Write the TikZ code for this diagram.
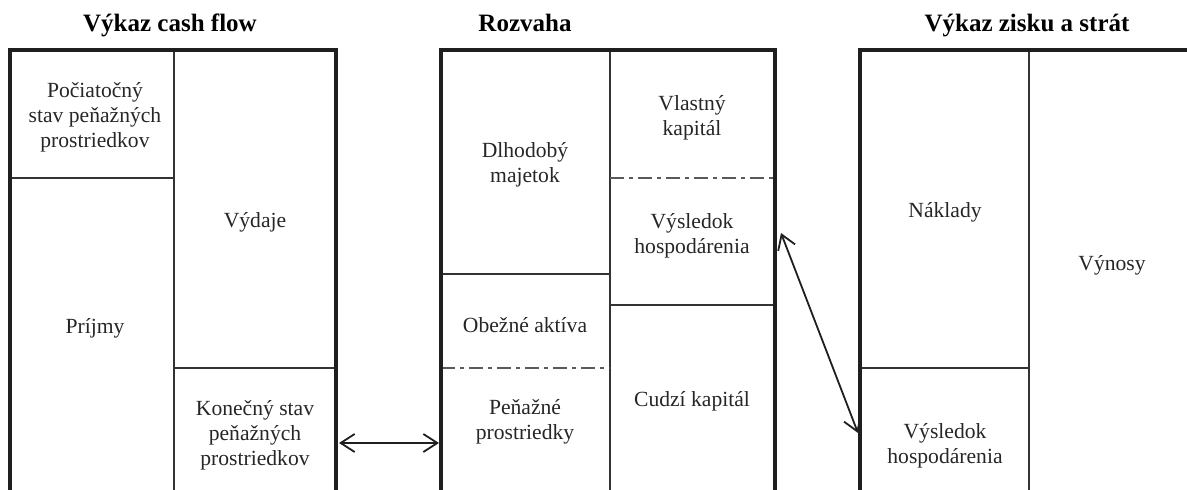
\documentclass[tikz,border=0pt]{standalone}
\usepackage{fontspec}
\setmainfont{Liberation Serif}
\usetikzlibrary{arrows.meta}
\begin{document}
\begin{tikzpicture}[x=0.5pt,y=-0.5pt,
 outer/.style={line width=1.8pt, draw=black!88},
 inner/.style={line width=1pt, draw=black!80},
 dashdot/.style={line width=1.2pt, draw=black!65, dash pattern=on 7pt off 2.5pt on 2pt off 2.5pt},
 lbl/.style={align=center, font=\fontsize{10.8}{12.6}\selectfont, text=black!85, inner sep=0pt},
 ttl/.style={font=\bfseries\fontsize{12.5}{14}\selectfont, inner sep=0pt, anchor=base},
 arr/.style={{Straight Barb[length=7pt,width=9pt]}-{Straight Barb[length=7pt,width=9pt]}, line width=0.9pt, draw=black!88}
]
\useasboundingbox (0,0) rectangle (1187,490);
% titles
\node[ttl] (t1) at (170,32) {Výkaz cash flow};
\node[ttl] (t2) at (525,32) {Rozvaha};
\node[ttl] (t3) at (1027,32) {Výkaz zisku a strát};
% box 1
\draw[inner] (174,50) -- (174,490);
\draw[inner] (10,178) -- (174,178);
\draw[inner] (174,368) -- (336,368);
\draw[outer] (10,490) -- (10,50) -- (336,50) -- (336,490);
% box 2
\draw[inner] (610,50) -- (610,490);
\draw[inner] (441,274) -- (610,274);
\draw[dashdot] (441,368) -- (610,368);
\draw[dashdot] (610,178) -- (775,178);
\draw[inner] (610,305) -- (775,305);
\draw[outer] (441,490) -- (441,50) -- (775,50) -- (775,490);
% box 3
\draw[inner] (1029,50) -- (1029,490);
\draw[inner] (860,368) -- (1029,368);
\draw[outer] (860,490) -- (860,50) -- (1187,50);
% labels
\node[lbl] (pociatocny) at (95,117) {Počiatočný\\stav peňažných\\prostriedkov};
\node[lbl] (prijmy) at (95,328) {Príjmy};
\node[lbl] (vydaje) at (255,222) {Výdaje};
\node[lbl] (konecny) at (255,435) {Konečný stav\\peňažných\\prostriedkov};
\node[lbl] (dlhodoby) at (525,165) {Dlhodobý\\majetok};
\node[lbl] (obezne) at (525,325) {Obežné aktíva};
\node[lbl] (penazne) at (525,422) {Peňažné\\prostriedky};
\node[lbl] (vlastny) at (692,118) {Vlastný\\kapitál};
\node[lbl] (vysledokR) at (692,236) {Výsledok\\hospodárenia};
\node[lbl] (cudzi) at (692,401) {Cudzí kapitál};
\node[lbl] (naklady) at (945,212) {Náklady};
\node[lbl] (vynosy) at (1112,265) {Výnosy};
\node[lbl] (vysledokV) at (945,446) {Výsledok\\hospodárenia};
% connectors
\coordinate (a1) at (339,443);
\coordinate (a2) at (439,443);
\coordinate (b1) at (781,233);
\coordinate (b2) at (858,433);
\draw[arr] (a1) -- (a2);
\draw[arr] (b1) -- (b2);
\end{tikzpicture}
\end{document}
